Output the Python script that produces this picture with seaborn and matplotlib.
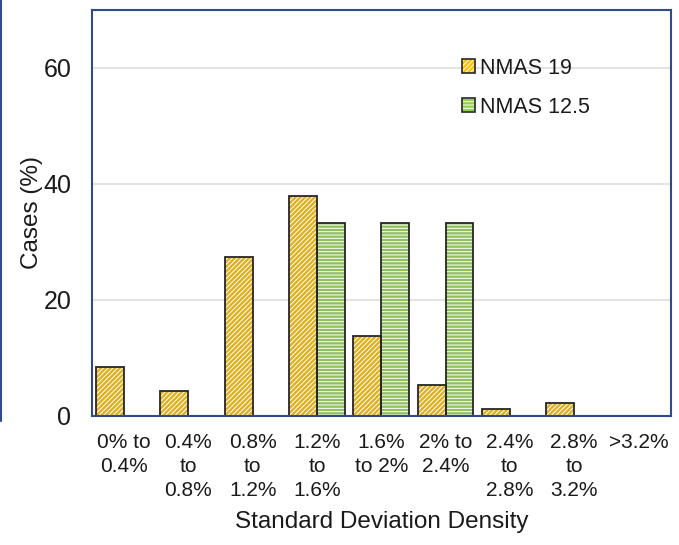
import numpy as np
import pandas as pd
import seaborn as sns
import matplotlib.pyplot as plt
from matplotlib.lines import Line2D
from matplotlib.patches import Rectangle

categories = ["0% to\n0.4%", "0.4%\nto\n0.8%", "0.8%\nto\n1.2%", "1.2%\nto\n1.6%",
              "1.6%\nto 2%", "2% to\n2.4%", "2.4%\nto\n2.8%", "2.8%\nto\n3.2%", ">3.2%"]
nmas_19 = [8.5, 4.3, 27.4, 37.9, 13.8, 5.4, 1.2, 2.2, 0.0]
nmas_12_5 = [0.0, 0.0, 0.0, 33.3, 33.3, 33.3, 0.0, 0.0, 0.0]
series = ["NMAS 19", "NMAS 12.5"]

df = pd.DataFrame({
    "range": categories * 2,
    "cases": nmas_19 + nmas_12_5,
    "series": [series[0]] * len(categories) + [series[1]] * len(categories),
})

sns.set_style("white")
plt.rcParams["font.family"] = ["Liberation Sans", "DejaVu Sans"]
plt.rcParams["hatch.linewidth"] = 0.7
for key in ["text.color", "axes.labelcolor", "xtick.color", "ytick.color"]:
    plt.rcParams[key] = "#1a1a1a"

fig = plt.figure(figsize=(6.79, 5.45), dpi=100)
ax = fig.add_axes([0.1355, 0.237, 0.852, 0.745])

edge = "#262626"
styles = {
    "NMAS 19": dict(face="#FFC000", hatch="///////"),
    "NMAS 12.5": dict(face="#92D050", hatch="-----"),
}

sns.barplot(data=df, x="range", y="cases", hue="series", hue_order=series,
            palette=[styles[s]["face"] for s in series], width=0.87, gap=0,
            ax=ax, legend=False)

# hatch lines take the edge colour, so hatch in white and redraw the outline on top
n = len(categories)
for i, patch in enumerate(list(ax.patches[:2 * n])):
    st = styles[series[i // n]]
    patch.set_hatch(st["hatch"])
    patch.set_edgecolor("white")
    patch.set_linewidth(0)
    if patch.get_height() > 0:
        ax.add_patch(Rectangle(patch.get_xy(), patch.get_width(), patch.get_height(),
                               facecolor="none", edgecolor=edge, linewidth=1.3, zorder=3))

ax.set_ylim(0, 70)
ax.set_yticks([0, 20, 40, 60])
ax.set_xlim(-0.5, n - 0.5)
ax.yaxis.grid(True, color="#E3E3E3", linewidth=1.5)
ax.set_axisbelow(True)
for sp in ax.spines.values():
    sp.set_color("#2F4B8C")
    sp.set_linewidth(1.5)
    sp.set_visible(True)
    sp.set_zorder(4)

ax.tick_params(axis="y", labelsize=18, length=0, pad=15)
ax.tick_params(axis="x", labelsize=15, length=0, pad=12)
for lbl in ax.get_xticklabels():
    lbl.set_verticalalignment("top")
    lbl.set_linespacing(1.36)
ax.set_xlabel("Standard Deviation Density", fontsize=17.5, labelpad=8)
ax.set_ylabel("Cases (%)", fontsize=17.5, labelpad=0)

handles = []
for s in series:
    st = styles[s]
    fill = Rectangle((0, 0), 1, 1, facecolor=st["face"], edgecolor="white",
                     hatch=st["hatch"], linewidth=0)
    outline = Rectangle((0, 0), 1, 1, facecolor="none", edgecolor=edge, linewidth=1.2)
    handles.append((fill, outline))
ax.legend(handles, series, loc="upper left", bbox_to_anchor=(0.606, 0.93),
          frameon=False, fontsize=15.5, handlelength=0.6, handleheight=0.6,
          handletextpad=0.25, labelspacing=0.85)

fig.add_artist(Line2D([0.002, 0.002], [1.0, 1 - 421 / 545], color="#2F4B8C",
                      linewidth=1.5, transform=fig.transFigure))

fig.savefig("out.png", dpi=100)
